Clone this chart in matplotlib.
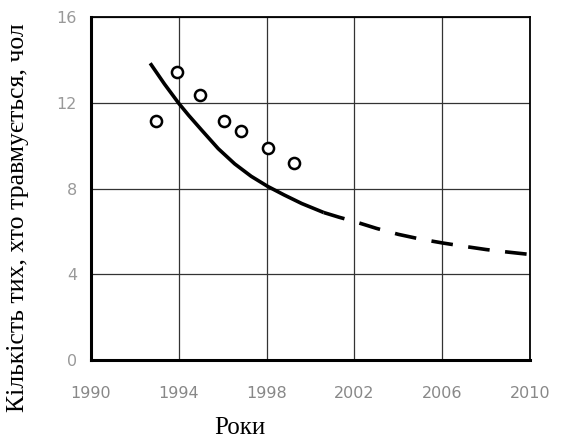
import matplotlib.pyplot as plt

# observed data (circles)
obs_years = [1992.95, 1993.9, 1994.95, 1996.05, 1996.85, 1998.05, 1999.25]
obs_values = [11.15, 13.45, 12.35, 11.15, 10.68, 9.88, 9.2]

# fitted trend
fit_years = [1992.7, 1993.35, 1994.0, 1994.45, 1995.05, 1995.8, 1996.55, 1997.3, 1998.05, 1998.8, 1999.6, 2000.6]
fit_values = [13.85, 12.88, 11.98, 11.42, 10.72, 9.86, 9.15, 8.57, 8.1, 7.7, 7.3, 6.88]

# forecast (dashed)
fc_years = [2000.6, 2001.3, 2002.0, 2003.0, 2004.0, 2005.0, 2006.0, 2007.0, 2008.0, 2009.0, 2010.0]
fc_values = [6.88, 6.66, 6.46, 6.14, 5.86, 5.64, 5.46, 5.3, 5.15, 5.03, 4.92]

x_ticks = [1990, 1994, 1998, 2002, 2006, 2010]
y_ticks = [0, 4, 8, 12, 16]

fig = plt.figure(figsize=(5.61, 4.41), dpi=100)
ax = fig.add_axes([0.162, 0.184, 0.783, 0.777])

ax.plot(fit_years, fit_values, color="black", lw=2.6, solid_capstyle="butt")
ax.plot(fc_years, fc_values, color="black", lw=2.6, dashes=(6, 4.3))
ax.plot(obs_years, obs_values, "o", ms=8, mfc="white", mec="black", mew=1.8)

ax.set_xlim(1990, 2010)
ax.set_ylim(0, 16)
ax.set_xticks(x_ticks)
ax.set_yticks(y_ticks)
ax.grid(True, color="#333333", lw=0.9)
ax.set_axisbelow(True)
for side in ["top", "right"]:
    ax.spines[side].set_linewidth(1.3)
for side in ["left", "bottom"]:
    ax.spines[side].set_linewidth(2.2)
ax.tick_params(axis="x", length=0, pad=19, labelsize=11.5, labelcolor="#888888")
ax.tick_params(axis="y", length=0, pad=10, labelsize=11.5, labelcolor="#999999")

ax.set_xlabel("Роки", fontfamily="Liberation Serif", fontsize=18, va="center")
ax.xaxis.set_label_coords(0.339, -0.199)
ax.set_ylabel("Кількість тих, хто травмується, чол", fontfamily="Liberation Serif",
              fontsize=18.5, va="center")
ax.yaxis.set_label_coords(-0.165, 0.414)

fig.savefig("out.png", dpi=100)
